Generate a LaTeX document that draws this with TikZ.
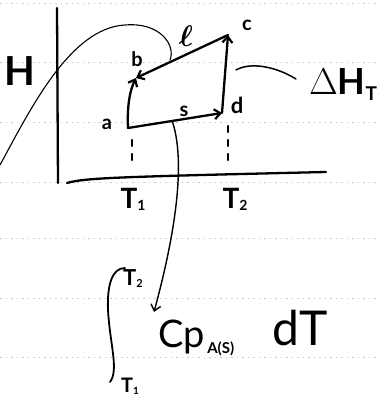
\documentclass[tikz,border=0pt]{standalone}
\usepackage{graphicx}
\usepackage{fontspec}
\setmainfont{Lato}
\usetikzlibrary{arrows.meta,calc}
\begin{document}
\begin{tikzpicture}[x=1pt,y=-1pt,
  ink/.style={line width=2.3pt,line cap=round,line join=round},
  thin ink/.style={line width=1.1pt,line cap=round},
  arr/.style={ink,-{Straight Barb[length=6pt,width=10pt,line width=2.2pt]}},
  rule/.style={gray!45,line width=0.6pt,dash pattern=on 1.5pt off 4pt},
  lbl/.style={inner sep=0pt,font=\bfseries\fontsize{20}{20}\selectfont},
  dashv/.style={ink,dash pattern=on 6pt off 8pt}]
\useasboundingbox (0,0) rectangle (378,398);
% notebook rules
\foreach \yy in {3,62,122,182,238,298,357}
  \draw[rule] (0,\yy) -- (378,\yy);
% axes
\coordinate (top) at (57,8);
\coordinate (orig) at (58,183);
\coordinate (hstart) at (67,183);
\coordinate (hend) at (326,172);
\draw[ink] (top) -- (orig);
\draw[ink] (hstart) .. controls (85,178) and (110,177) .. (hend);
\node[inner sep=0pt,font=\bfseries\fontsize{40}{40}\selectfont] (H) at (20,71) {H};
% points
\coordinate (a0) at (128,128);
\coordinate (b0) at (136,78);
\coordinate (c0) at (228,35);
\coordinate (d0) at (222,113);
\coordinate (s0) at ($(a0)!0.47!(d0)$);
% path edges
\draw[arr] (a0) .. controls (127,105) and (130,90) .. (b0);
\draw[arr] (c0) -- (b0);
\draw[arr] (a0) -- (d0);
\draw[arr] (d0) -- (c0);
% labels
\node[lbl] (la) at (107,124) {a};
\node[lbl] (lb) at (137,59) {b};
\node[lbl,font=\fontsize{24}{24}\selectfont\mathversion{bold}] (ll) at (186,36) {\scalebox{1.2}{$\ell$}};
\node[lbl] (lc) at (247,25) {c};
\node[lbl,font=\bfseries\fontsize{22}{22}\selectfont] (ld) at (237,105) {d};
\node[lbl] (ls) at (184,111) {s};
% dashed drops
\coordinate (ta) at (132,140);
\coordinate (tb) at (132,166);
\coordinate (tc) at (228,126);
\coordinate (td) at (228,166);
\draw[dashv] (ta) -- (tb);
\draw[dashv] (tc) -- (td);
\node[inner sep=0pt,font=\bfseries\fontsize{28}{28}\selectfont] (T1) at (133,199) {T\raisebox{-2pt}{\fontsize{14}{14}\selectfont 1}};
\node[inner sep=0pt,font=\bfseries\fontsize{28}{28}\selectfont] (T2) at (235,199) {T\raisebox{-2pt}{\fontsize{14}{14}\selectfont 2}};
% Delta H_T
\node[inner sep=0pt,font=\fontsize{36}{36}\selectfont] (DH) at (343,84) {{\fontsize{24}{24}\selectfont\scalebox{1.5}{$\Delta$}}\textbf{H}\raisebox{-6pt}{\bfseries\fontsize{19}{19}\selectfont T}};
\coordinate (tw1) at (236,70);
\coordinate (tw2) at (296,79);
\draw[thin ink,line width=1.5pt] (tw1) .. controls (250,62) and (275,66) .. (tw2);
% big curve to the l path
\coordinate (cs) at (0,165);
\coordinate (cm) at (125,25);
\coordinate (ce) at (170,60);
\draw[thin ink] (cs) .. controls (30,110) and (70,28) .. (cm) .. controls (160,22) and (176,45) .. (ce);
% arrow from s to the integral
\coordinate (ie) at (154,312);
\draw[thin ink,line width=1.4pt,-{Straight Barb[length=6pt,width=10pt,line width=1.4pt]}] (s0) .. controls (182,150) and (183,205) .. (ie);
% integral
\coordinate (it) at (125,268);
\coordinate (im) at (108,310);
\coordinate (ib) at (110,382);
\draw[ink,line width=1.8pt] (it) .. controls (112,268) and (107,285) .. (im) .. controls (110,345) and (119,370) .. (ib);
\node[inner sep=0pt,font=\bfseries\fontsize{22}{22}\selectfont] (iT2) at (133,279) {T\raisebox{-2pt}{\fontsize{11}{11}\selectfont 2}};
\node[inner sep=0pt,font=\bfseries\fontsize{20}{20}\selectfont] (iT1) at (130,386) {T\raisebox{-2pt}{\fontsize{10}{10}\selectfont 1}};
\node[inner sep=0pt,font=\fontsize{38}{38}\selectfont,anchor=west] (Cp) at (158,338) {Cp\raisebox{-6pt}{\bfseries\fontsize{15}{15}\selectfont\,A(S)}};
\node[inner sep=0pt,font=\fontsize{48}{48}\selectfont] (dT) at (300,328) {dT};
\end{tikzpicture}
\end{document}
